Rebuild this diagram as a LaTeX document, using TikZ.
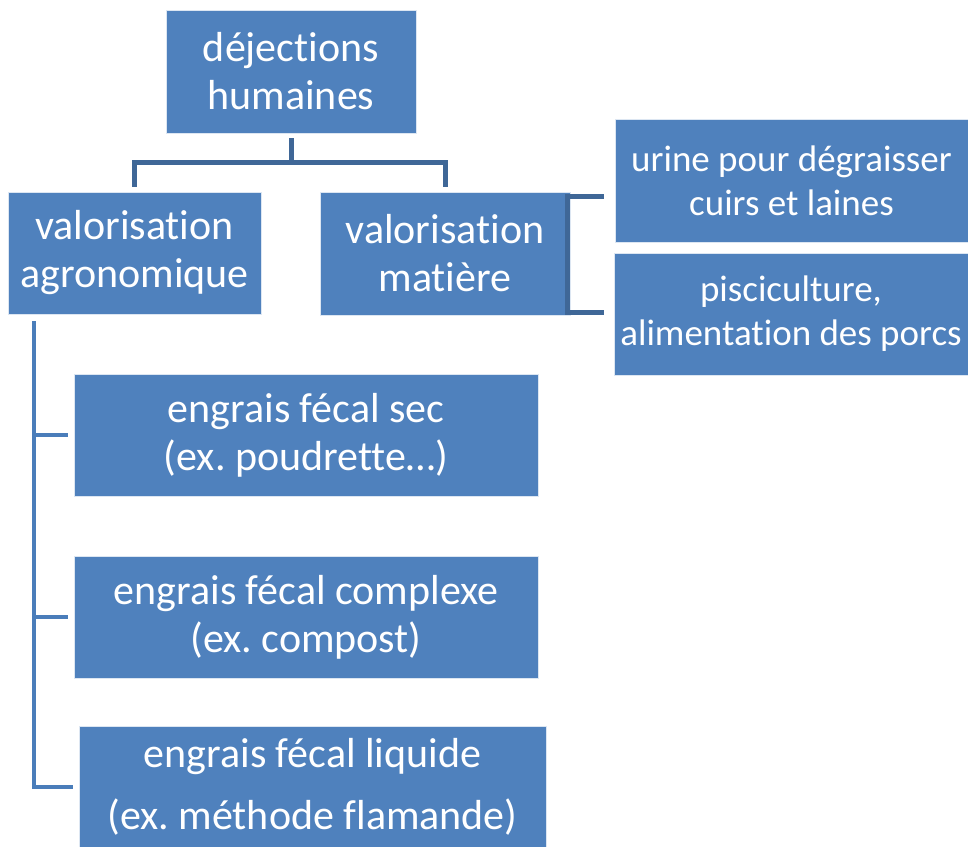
\documentclass[tikz,border=0pt]{standalone}
\usepackage{fontspec}
\setmainfont{Carlito}[Ligatures={NoCommon,NoRare}]
\frenchspacing
\usetikzlibrary{calc}
\definecolor{boxblue}{HTML}{4F81BD}
\definecolor{linkdark}{HTML}{3F6797}
\definecolor{linklight}{HTML}{4A7DBA}

\begin{document}
\begin{tikzpicture}[x=1pt,y=-1pt,
    box/.style={fill=boxblue,draw=white!80!boxblue,line width=.6pt,text=white,
      inner sep=0pt,align=center,font=\fontsize{42}{48}\selectfont},
    smallbox/.style={box,font=\fontsize{37}{44}\selectfont},
    link/.style={draw=linkdark,line width=5pt},
    spine/.style={draw=linklight,line width=4pt}]
  \useasboundingbox (0,0) rectangle (968,846);

  \node[box,minimum width=250pt,minimum height=123pt] (dej) at (291,71.5) {déjections\\humaines};
  \node[box,minimum width=253pt,minimum height=122pt] (agro) at (134.5,253) {valorisation\\agronomique};
  \node[box,minimum width=250pt,minimum height=123pt] (mat) at (445,253.5) {valorisation\\matière};
  \node[smallbox,minimum width=353pt,minimum height=123pt] (urine) at (791.5,180.5) {urine pour dégraisser\\cuirs et laines};
  \node[smallbox,minimum width=354pt,minimum height=122pt] (pisc) at (791,314) {pisciculture,\\alimentation des porcs};
  \node[box,minimum width=464pt,minimum height=122pt] (sec) at (306,435) {engrais fécal sec\\(ex. poudrette…)};
  \node[box,minimum width=464pt,minimum height=122pt] (comp) at (306,617) {engrais fécal complexe\\(ex. compost)};
  \node[box,minimum width=467pt,minimum height=122pt] (liq) at (312.5,787) {engrais fécal liquide\\[14pt](ex. méthode flamande)};

  \coordinate (fork) at ($(dej.south)+(0,29)$);
  \draw[link] ($(dej.south)+(0,5)$) -- (fork);
  \draw[link] ($(agro.north)+(0,-5)$) |- (fork) -| ($(mat.north)+(0,-5)$);

  \draw[link] ($(urine.west |- mat.north)+(-11,5)$) -- ($(mat.north east)+(-3,5)$)
    -- ($(mat.south east)+(-3,-3)$) -- ($(pisc.west |- mat.south)+(-10,-3)$);

  \coordinate (spinetop) at ($(agro.south west)+(26,7)$);
  \draw[spine] (spinetop) |- ($(liq.west)+(-6,0)$);
  \draw[spine] (spinetop |- sec.west) -- ($(sec.west)+(-6,0)$);
  \draw[spine] (spinetop |- comp.west) -- ($(comp.west)+(-6,0)$);
\end{tikzpicture}
\end{document}
